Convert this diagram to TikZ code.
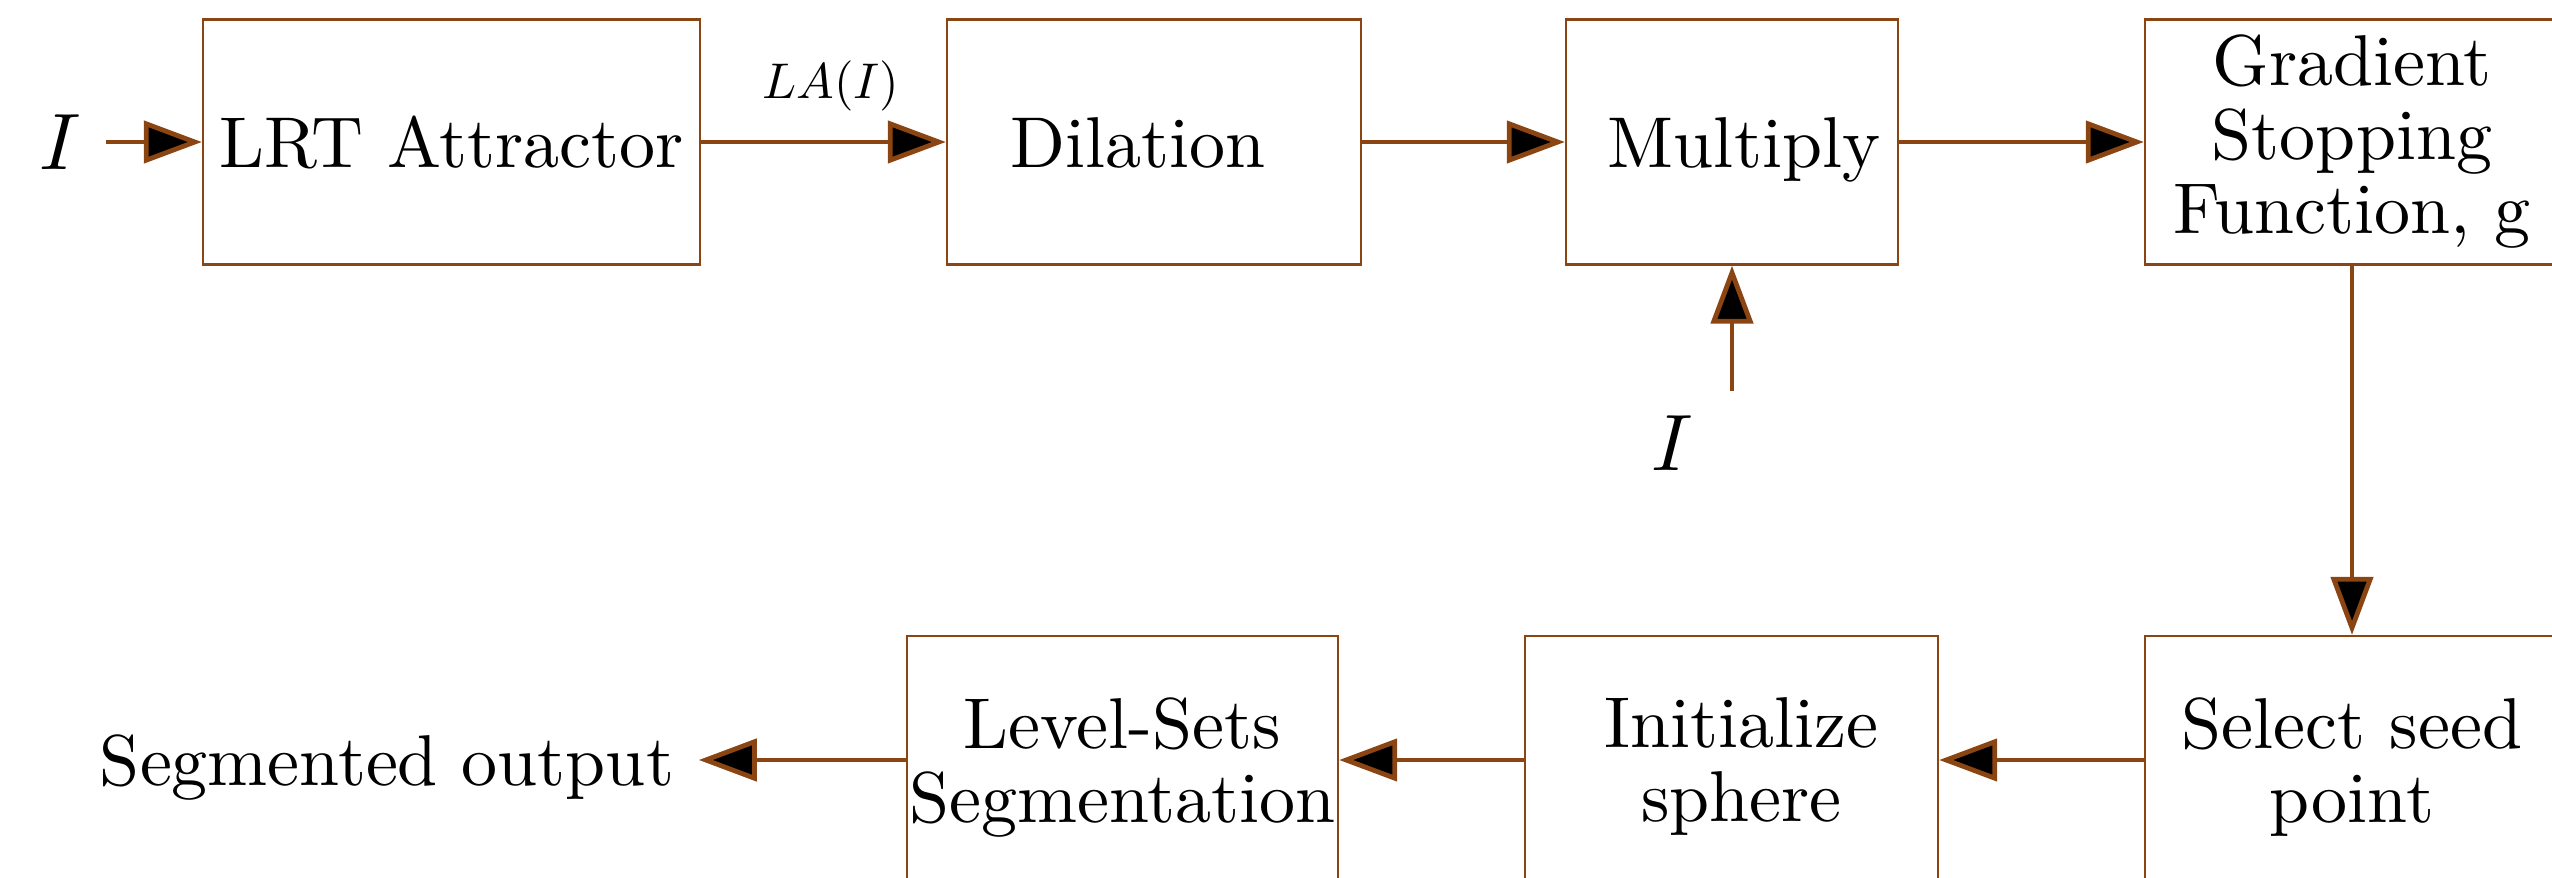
\documentclass[tikz,border=0pt]{standalone}
\usepackage{graphicx}
\usetikzlibrary{arrows.meta}
\DeclareFontFamily{TU}{lmten}{}
\DeclareFontShape{TU}{lmten}{m}{n}{<-> "[lmroman10-regular]:+tlig;"}{}
\definecolor{br}{RGB}{139,69,19}
\tikzset{
  blk/.style={draw=br, line width=0.6pt, minimum height=61.25pt, inner sep=0pt,
    font=\fontfamily{lmten}\fontsize{18}{18.5}\selectfont, align=center},
  one/.style={text height=12.5pt, text depth=0pt},
  two/.style={text depth=0pt, minimum height=62pt},
  con/.style={draw=br, line width=1.2pt, -{Triangle[length=14.5pt,width=10.5pt,fill=black]}},
  txt/.style={inner sep=6pt, font=\fontfamily{lmten}\fontsize{18}{18.5}\selectfont, text height=12.5pt, text depth=0pt},
  inp/.style={inner sep=6pt},
  lbl/.style={inner sep=0pt}
}
\begin{document}
\begin{tikzpicture}[x=0.25pt,y=-0.25pt]
\clip (0,0) rectangle (2552,878);
% top row
\node[blk, one, minimum width=124.25pt] (lrt) at (451.5,142) {LRT Attractor};
\node[blk, one, minimum width=103.5pt] (dil) at (1154,142) {Dilation\kern8pt};
\node[blk, one, minimum width=83pt] (mul) at (1732,142) {\kern6pt Multiply};
\node[blk, minimum width=103.5pt] (grd) at (2352,142) {Gradient\\Stopping\\Function, g};
% bottom row
\node[blk, two, minimum width=103.5pt] (sel) at (2352,760) {Select seed\\point};
\node[blk, two, minimum width=103.25pt] (ini) at (1731.5,760) {\hspace*{5pt}Initialize\\\hspace*{5pt}sphere};
\node[blk, two, minimum width=107.75pt] (lvl) at (1122.5,760) {Level-Sets\\Segmentation};
% free texts
\node[inp] (in) at (60,142) {\scalebox{2}{$I$}};
\node[inp] (in2) at (1672,443) {\scalebox{2}{$I$}};
\coordinate (mi) at (1732,391);
\node[txt] (out) at (387,760) {Segmented output};
% connectors
\draw[con] (in) -- (lrt);
\draw[con] (lrt) -- node[lbl, pos=0.53, yshift=14pt] (la) {\scalebox{1.255}{$LA(I)$}} (dil);
\draw[con] (dil) -- (mul);
\draw[con] (mul) -- (grd);
\draw[con] (mi) -- (mul.south);
\draw[con] (grd) -- (sel);
\draw[con] (sel) -- (ini);
\draw[con] (ini) -- (lvl);
\draw[con] (lvl) -- (out);
\end{tikzpicture}
\end{document}
